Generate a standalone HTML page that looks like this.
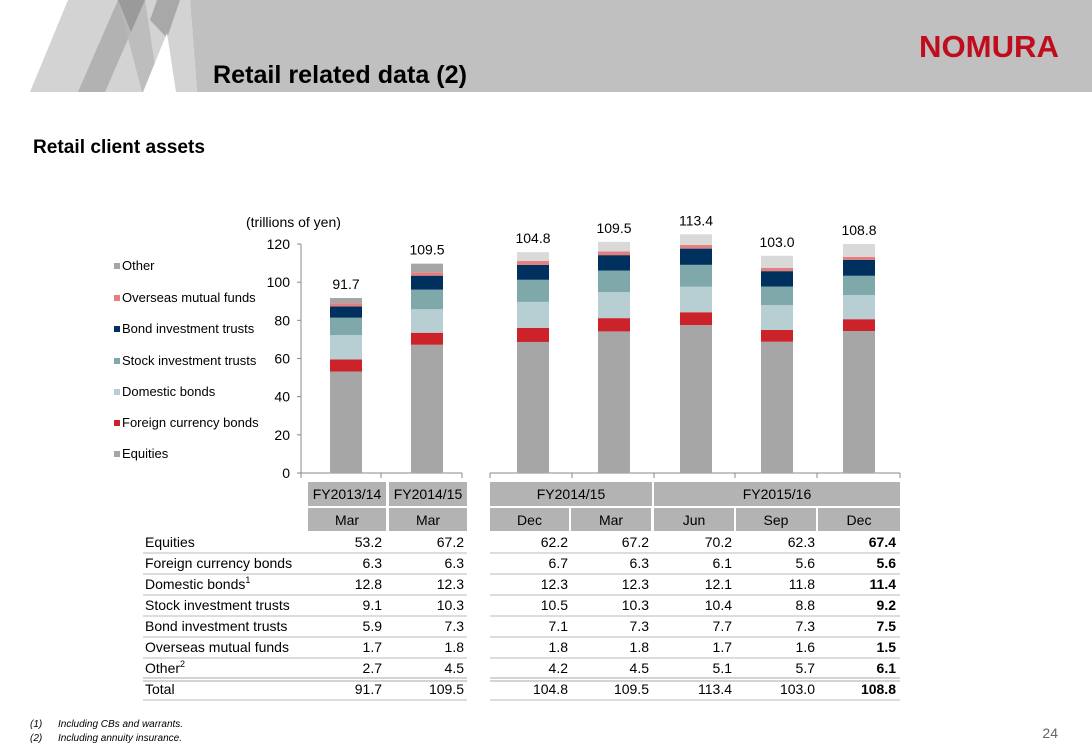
<!DOCTYPE html>
<html><head><meta charset="utf-8"><style>
body{margin:0;background:#fff;}
svg{display:block;font-family:"Liberation Sans",Arial,sans-serif;}
</style></head><body>
<svg id="page" width="1092" height="756" viewBox="0 0 1092 756" xmlns="http://www.w3.org/2000/svg">
<g>
<polygon points="190,0 1092,0 1092,92 197,92" fill="#c0c0c0"/>
<polygon points="30,92 68,0 190,0 197,92" fill="#d3d3d3"/>
<polygon points="78,92 118,0 145,0 105,92" fill="#b2b2b2"/>
<polygon points="118,0 145,0 159,92 142,92" fill="#b8b8b8" opacity="0.8"/>
<polygon points="118,0 145,0 131,32" fill="#9a9a9a"/>
<polygon points="157,0 180,0 167,38 150,20" fill="#a8a8a8"/>
<polygon points="143,92 167,33 176,92" fill="#ffffff"/>
<text x="213" y="83" font-size="25" font-weight="bold" fill="#000" textLength="254" lengthAdjust="spacingAndGlyphs">Retail related data (2)</text>
<text x="919" y="57" font-size="31" font-weight="bold" fill="#c00d1e" textLength="140" lengthAdjust="spacingAndGlyphs">NOMURA</text>
</g>
<text x="33" y="153" font-size="19" font-weight="bold" textLength="172" lengthAdjust="spacingAndGlyphs">Retail client assets</text>
<text x="246" y="227" font-size="14">(trillions of yen)</text>
<g id="legend"></g>
<g id="chart"></g>
<g id="table"></g>
<g font-size="10" font-style="italic">
<text x="30" y="727">(1)</text><text x="58" y="727">Including CBs and warrants.</text>
<text x="30" y="741">(2)</text><text x="58" y="741">Including annuity insurance.</text>
</g>
<text x="1058" y="738" font-size="14" fill="#666" text-anchor="end">24</text>
</svg>
<script>
const categories = ["Mar FY13","Mar FY14","Dec FY14","Mar FY14b","Jun FY15","Sep FY15","Dec FY15"];
const seriesNames = ["Equities","Foreign currency bonds","Domestic bonds","Stock investment trusts","Bond investment trusts","Overseas mutual funds","Other"];
const equities = [53.2,67.2,62.2,67.2,70.2,62.3,67.4];
const foreignBonds = [6.3,6.3,6.7,6.3,6.1,5.6,5.6];
const domesticBonds = [12.8,12.3,12.3,12.3,12.1,11.8,11.4];
const stockTrusts = [9.1,10.3,10.5,10.3,10.4,8.8,9.2];
const bondTrusts = [5.9,7.3,7.1,7.3,7.7,7.3,7.5];
const overseasFunds = [1.7,1.8,1.8,1.8,1.7,1.6,1.5];
const other = [2.7,4.5,4.2,4.5,5.1,5.7,6.1];
const totals = [91.7,109.5,104.8,109.5,113.4,103.0,108.8];
const yTicks = [0,20,40,60,80,100,120];
const hdrYear = ["FY2013/14","FY2014/15","FY2014/15","FY2015/16"];
const hdrMonth = ["Mar","Mar","Dec","Mar","Jun","Sep","Dec"];

const NS="http://www.w3.org/2000/svg";
function mk(tag,attrs,parent,txt){const e=document.createElementNS(NS,tag);for(const k in attrs)e.setAttribute(k,attrs[k]);if(txt!==undefined)e.textContent=txt;parent.appendChild(e);return e;}
const series=[equities,foreignBonds,domesticBonds,stockTrusts,bondTrusts,overseasFunds,other];
const colors=["#a6a6a6","#cc2229","#b7cfd3","#7fa8aa","#00305e","#e57f7f","#a6a6a6"];
const otherRight="#d9d9d9";
const chart=document.getElementById('chart');
const y0=473;
const scaleL=(473-244)/120, scaleR=2.107;
function yL(v){return y0-v*scaleL;}
const barX=[346,427,533,614,696,777,859];
// axes
mk('line',{x1:301,y1:244,x2:301,y2:y0,stroke:'#888'},chart);
mk('line',{x1:301,y1:y0,x2:462,y2:y0,stroke:'#888'},chart);
[301,381,462].forEach(x=>mk('line',{x1:x,y1:y0,x2:x,y2:y0+5,stroke:'#888'},chart));
mk('line',{x1:490,y1:y0,x2:900,y2:y0,stroke:'#888'},chart);
[490,572,654,735,817,900].forEach(x=>mk('line',{x1:x,y1:y0,x2:x,y2:y0+5,stroke:'#888'},chart));
yTicks.forEach(t=>{
 const tl=mk('text',{x:290,y:yL(t)+5,'font-size':14,'text-anchor':'end'},chart,String(t));
 
 
 mk('line',{x1:297,y1:yL(t),x2:301,y2:yL(t),stroke:'#888'},chart);
});
categories.forEach((c,i)=>{
 const sc=i<2?scaleL:scaleR;
 let acc=0;
 series.forEach((s,j)=>{
  const v=s[i];
  const r=mk('rect',{x:barX[i]-16,y:y0-(acc+v)*sc,width:32,height:v*sc,fill:(j===6&&i>=2)?otherRight:colors[j]},chart);
  
  
  acc+=v;
 });
 const top=y0-acc*sc;
 const lbl=mk('text',{x:barX[i],y:Math.min(top-9,i>=2?top-9:top-9),'font-size':14,'text-anchor':'middle'},chart,totals[i].toFixed(1));
 
 
});
// legend
const leg=document.getElementById('legend');
const legY=[268,300,331,363,394,425,456];
const legOrder=[6,5,4,3,2,1,0];
legOrder.forEach((j,k)=>{
 const g=mk('g',{},leg);
 
 
 mk('rect',{x:114,y:legY[k]-5,width:6,height:6,fill:colors[j]},g);
 mk('text',{x:122,y:legY[k]+2,'font-size':13},g,seriesNames[j]);
});
// table
const tb=document.getElementById('table');
const hdrFill="#b3b3b3";
[[308,78],[389,78]].forEach((c,i)=>{
 mk('rect',{x:c[0],y:482,width:c[1],height:24,fill:hdrFill},tb);
 mk('text',{x:c[0]+c[1]/2,y:499,'font-size':14,'text-anchor':'middle'},tb,hdrYear[i]);
});
[[490,162],[654,246]].forEach((c,i)=>{
 mk('rect',{x:c[0],y:482,width:c[1],height:24,fill:hdrFill},tb);
 mk('text',{x:c[0]+c[1]/2,y:499,'font-size':14,'text-anchor':'middle'},tb,hdrYear[i+2]);
});
const colL=[308,389,490,571,654,736,818], colW=[78,78,79,80,80,80,82];
hdrMonth.forEach((m,i)=>{
 mk('rect',{x:colL[i],y:508,width:colW[i],height:23,fill:hdrFill},tb);
 mk('text',{x:colL[i]+colW[i]/2,y:525,'font-size':14,'text-anchor':'middle'},tb,m);
});
const rowLabels=["Equities","Foreign currency bonds","Domestic bonds","Stock investment trusts","Bond investment trusts","Overseas mutual funds","Other","Total"];
const sup=["","","1","","","","2",""];
const rows=[...series,totals];
const rightEdge=[382,464,568,649,732,815,896];
rows.forEach((s,r)=>{
 const y=547+r*21;
 const t=mk('text',{x:145,y:y,'font-size':14},tb,rowLabels[r]);
 if(sup[r]){mk('tspan',{dy:-6,'font-size':9},t,sup[r]);}
 s.forEach((v,i)=>{
  const c=mk('text',{x:rightEdge[i],y:y,'font-size':14,'text-anchor':'end','font-weight':i===6?'bold':'normal'},tb,v.toFixed(1));
  
  
 });
 const ly=y+6;
 if(r===6){
  [[143,467],[490,900]].forEach(p=>{mk('line',{x1:p[0],y1:ly-1,x2:p[1],y2:ly-1,stroke:'#aaa'},tb);mk('line',{x1:p[0],y1:ly+2,x2:p[1],y2:ly+2,stroke:'#aaa'},tb);});
 } else {
  [[143,467],[490,900]].forEach(p=>mk('line',{x1:p[0],y1:ly,x2:p[1],y2:ly,stroke:'#bbb'},tb));
 }
});
</script>
</body></html>
